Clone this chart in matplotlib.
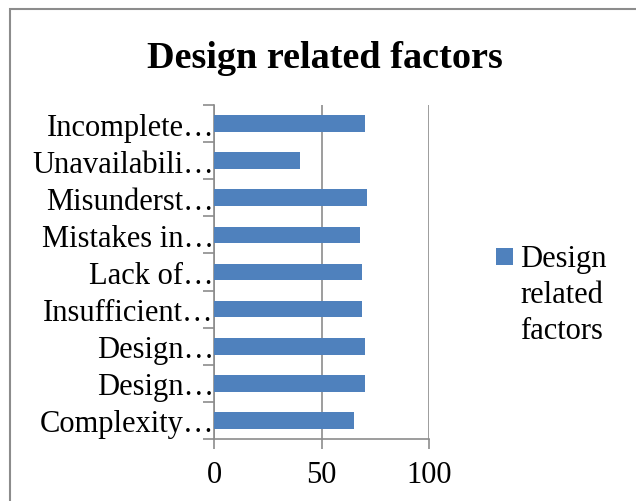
import matplotlib
matplotlib.use("Agg")
import matplotlib.pyplot as plt
from matplotlib.patches import Rectangle

categories = ["Complexity…", "Design…", "Design…", "Insufficient…", "Lack of…",
              "Mistakes in…", "Misunderst…", "Unavailabili…", "Incomplete…"]
values = [65, 70, 70, 69, 69, 68, 71, 40, 70]
series_name = "Design related factors"
legend_lines = ["Design", "related", "factors"]
title = "Design related factors"
xticks = [0, 50, 100]

plt.rcParams['font.family'] = ['Liberation Serif', 'DejaVu Serif']

W, H = 636, 502
fig = plt.figure(figsize=(W / 100, H / 100), dpi=100)
fig.patch.set_facecolor("white")

# outer chart frame (partially visible)
fig.add_artist(Rectangle((10 / W, -0.2), 1.5, 1.2 - 10 / H,
                         transform=fig.transFigure, fill=False,
                         edgecolor="#8c8c8c", linewidth=1.5))

ax = fig.add_axes([214 / W, 62 / H, 215 / W, 334 / H])
y = list(range(len(categories)))
bar_color = "#4f81bd"
ax.barh(y, values, height=0.45, color=bar_color, label=series_name, zorder=3)

ax.set_xlim(0, 100)
ax.set_ylim(-0.5, len(categories) - 0.5)
ax.set_xticks(xticks)
ax.set_xticklabels([str(t) for t in xticks], fontsize=22)
ax.grid(axis="x", color="#8c8c8c", linewidth=1.2, zorder=0)
ax.set_yticks([i - 0.5 for i in range(len(categories) + 1)], minor=False)
ax.set_yticklabels([])
ax.set_yticks(y, minor=True)
ax.set_yticklabels(categories, minor=True, fontsize=22)
ax.tick_params(axis="y", which="minor", length=0, pad=0)
ax.tick_params(axis="y", which="major", length=8, width=1.2, color="#8c8c8c")
ax.tick_params(axis="x", length=7, width=1.2, color="#8c8c8c", pad=8)
for s in ["top", "right"]:
    ax.spines[s].set_visible(False)
for s in ["left", "bottom"]:
    ax.spines[s].set_color("#8c8c8c")
    ax.spines[s].set_linewidth(1.2)

fig.text(325 / W, 1 - 68 / H, title, ha="center", va="baseline",
         fontsize=27.5, fontweight="bold")

# legend
fig.add_artist(Rectangle((496 / W, 1 - 266 / H), 17 / W, 17 / H,
                         transform=fig.transFigure, facecolor=bar_color,
                         edgecolor="none"))
for i, line in enumerate(legend_lines):
    fig.text(520 / W, 1 - (267 + 36 * i) / H, line, ha="left", va="baseline",
             fontsize=22)

fig.savefig("out.png", dpi=100)
